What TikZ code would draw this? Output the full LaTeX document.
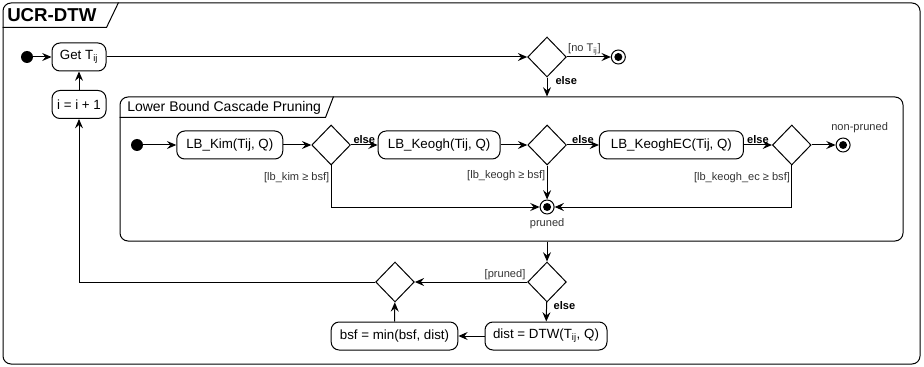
\documentclass[tikz,border=0pt]{standalone}
\usepackage{fontspec}
\setmainfont{Liberation Sans}
\usetikzlibrary{shapes.geometric, arrows.meta, positioning, calc}
\tikzset{
  act/.style={rectangle,draw,rounded corners=6pt,minimum height=21pt,inner xsep=3pt,
    align=center,font=\fontsize{10}{12}\selectfont,line width=0.75pt},
  dec/.style={diamond,draw,minimum width=29pt,minimum height=30pt,inner sep=0pt,line width=0.75pt},
  start/.style={circle,fill,minimum size=9pt,inner sep=0pt},
  fin/.style={circle,draw,line width=0.75pt,minimum size=10.5pt,inner sep=0pt,
    path picture={\fill (path picture bounding box.center) circle (3pt);}},
  frame/.style={rectangle,draw,rounded corners=6pt,inner sep=0pt,line width=0.75pt},
  arrow/.style={-{Stealth[length=7pt,width=6pt,inset=2.5pt]},line width=0.75pt},
  line/.style={line width=0.75pt},
  lbl/.style={font=\fontsize{8.3}{10}\selectfont,inner sep=1pt,text=black!80},
  elbl/.style={font=\bfseries\fontsize{8.3}{10}\selectfont,inner sep=1pt}
}
\begin{document}
\begin{tikzpicture}[x=0.75pt, y=-0.75pt]
  \useasboundingbox (0,0) rectangle (924,367);
  % frames
  \node[frame, minimum width=687.75pt, minimum height=270.75pt] (ucr) at (461.5,183.5) {};
  \draw[line] ($(ucr.north west)+(0,25)$) -- ++(104,0) -- ($(ucr.north west)+(116,0)$);
  \node[anchor=west, inner sep=0pt, font=\bfseries\fontsize{14}{16}\selectfont] (ucrt) at (7,15.5) {UCR-DTW};
  \node[frame, minimum width=587.25pt, minimum height=108pt] (lbc) at (511.5,169) {};
  \draw[line] ($(lbc.north west)+(0,21)$) -- ++(206,0) -- ($(lbc.north west)+(214,0)$);
  \node[anchor=west, inner sep=0pt, font=\fontsize{10.5}{12}\selectfont] (lbct) at (127,107.5) {Lower Bound Cascade Pruning};

  % outer loop
  \node[start] (s1) at (27,57) {};
  \node[act, minimum width=40.5pt] (get) at (79,57) {Get T\textsubscript{ij}};
  \node[act, minimum width=40.5pt] (inc) at (79,104.5) {i = i + 1};
  \node[dec] (d1) at (547,57) {};
  \node[fin, right=33pt of d1] (f1) {};

  % cascade
  \node[start] (s2) at (137,145) {};
  \node[act, minimum width=79.5pt, right=24.75pt of s2] (kim) {LB\_Kim(Tij, Q)};
  \node[dec, right=21pt of kim] (d2) {};
  \node[act, minimum width=91.5pt, right=20pt of d2] (keogh) {LB\_Keogh(Tij, Q)};
  \node[dec, right=20pt of keogh] (d3) {};
  \node[act, minimum width=108pt, right=24pt of d3] (ec) {LB\_KeoghEC(Tij, Q)};
  \node[dec, right=21pt of ec] (d4) {};
  \node[fin, right=18pt of d4] (np) {};
  \node[fin] (pr) at (d3 |- 0,207) {};
  \node[lbl, above=2pt of np, xshift=12.4pt] (npt) {non-pruned};
  \node[lbl, below=2pt of pr] (prt) {pruned};

  % bottom
  \node[dec] (d5) at (547,282) {};
  \node[dec] (mrg) at (395,282) {};
  \node[act, minimum width=91.5pt] (dist) at (546,336) {dist = DTW(T\textsubscript{ij}, Q)};
  \node[act, minimum width=95pt] (bsf) at (394.5,336) {bsf = min(bsf, dist)};

  \draw[arrow] (s1) -- (get);
  \draw[arrow] (get) -- (d1);
  \draw[arrow] (d1) -- node[lbl, above, pos=0.4] {[no T\textsubscript{ij}]} (f1);
  \draw[arrow] (d1) -- node[elbl, right, pos=0.15, xshift=5pt] {else} (d1 |- lbc.north);

  \draw[arrow] (s2) -- (kim);
  \draw[arrow] (kim) -- (d2);
  \draw[arrow] (d2) -- node[elbl, above] {else} (keogh);
  \draw[arrow] (keogh) -- (d3);
  \draw[arrow] (d3) -- node[elbl, above] {else} (ec);
  \draw[arrow] (ec) -- node[elbl, above] {else} (d4);
  \draw[arrow] (d4) -- (np);
  \draw[arrow] (d2.south) |- node[lbl, left, pos=0.15] {[lb\_kim ≥ bsf]} (pr);
  \draw[arrow] (d3) -- node[lbl, left, pos=0.3] {[lb\_keogh ≥ bsf]} (pr);
  \draw[arrow] (d4.south) |- node[lbl, left, pos=0.15] {[lb\_keogh\_ec ≥ bsf]} (pr);

  \draw[arrow] (d5 |- lbc.south) -- (d5);
  \draw[arrow] (d5) -- node[lbl, above left, pos=0] {[pruned]} (mrg);
  \draw[arrow] (d5) -- node[elbl, right, pos=0.2, xshift=4pt] {else} (dist);
  \draw[arrow] (dist) -- (bsf);
  \draw[arrow] (bsf) -- (mrg);
  \draw[arrow] (mrg) -| (inc);
  \draw[arrow] (inc) -- (get);
\end{tikzpicture}
\end{document}
